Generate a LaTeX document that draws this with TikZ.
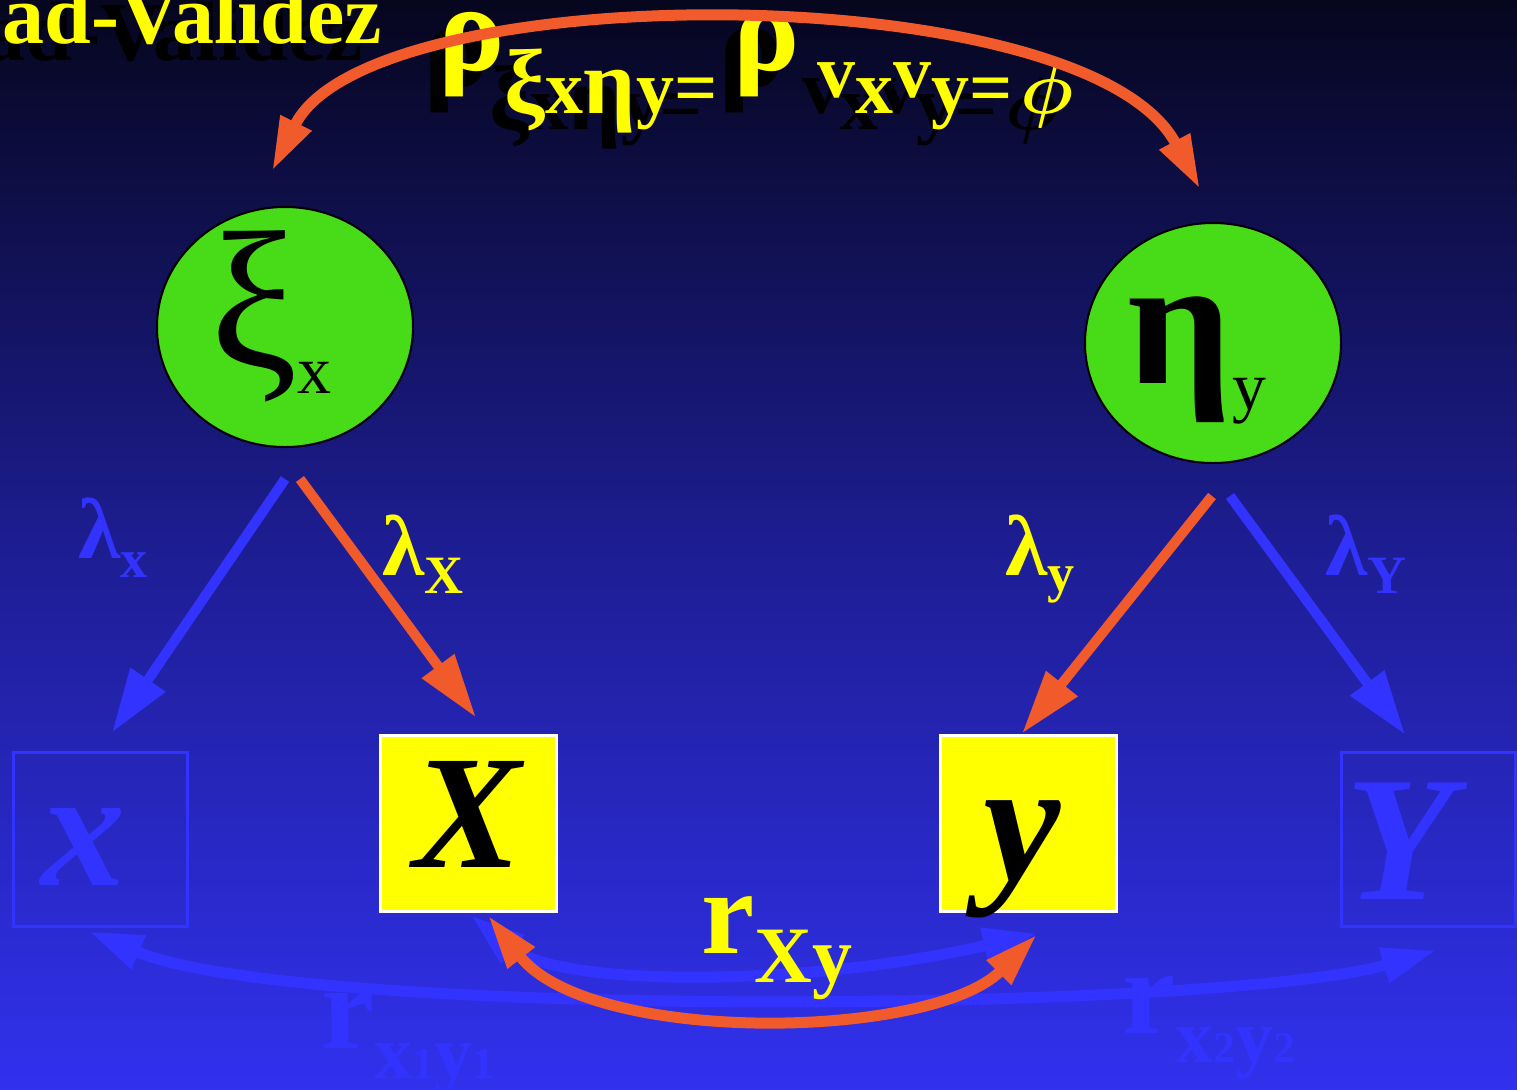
\documentclass[tikz,border=0pt]{standalone}
\usepackage{fontspec}
\setmainfont{Liberation Serif}
\usepackage{tikz}
\usetikzlibrary{arrows.meta,calc,positioning,shapes.geometric}
\definecolor{SlideTop}{HTML}{06061E}
\definecolor{SlideMid}{HTML}{1D1D92}
\definecolor{SlideBot}{HTML}{3131EE}
\definecolor{LvGreen}{HTML}{48DC18}
\definecolor{LvOrange}{HTML}{F15A2B}
\definecolor{LvBlue}{HTML}{3333FF}
\definecolor{LvYellow}{HTML}{FFFF00}
\newcommand{\fsz}[1]{\fontsize{#1}{#1}\selectfont}
\newcommand{\rholabel}{{\fsz{62}ρ}\raisebox{-21.5pt}{\fsz{38}{\fsz{46}ξ}x{\fsz{46}η}y=}\hspace{8pt}{\fsz{62}ρ}\hspace{9pt}\raisebox{-21.5pt}{\fsz{38}\raisebox{8pt}{v}x\raisebox{8pt}{v}y=\hspace{4pt}\scalebox{1.5}{\fsz{24.88}\boldmath$\phi$}}}
\tikzset{
  lvlatent/.style={ellipse, draw=black, line width=1pt, fill=LvGreen, minimum width=128pt, minimum height=120pt, inner sep=0pt, text height=40pt, text depth=0pt},
  lvobs/.style={draw=white, line width=1.5pt, fill=LvYellow, minimum size=88pt, inner sep=0pt, text height=44pt, text depth=0pt, font=\fsz{81}\bfseries\itshape},
  lvghost/.style={draw=LvBlue, line width=1.5pt, minimum size=87pt, inner sep=0pt, text=LvBlue, text height=46pt, text depth=0pt, font=\fsz{84}\bfseries\itshape},
  lvarrow/.style={-{Triangle[length=32pt,width=19pt]}, line width=5pt, draw=LvOrange},
  lvghostarrow/.style={-{Triangle[length=32pt,width=20pt]}, line width=5pt, draw=LvBlue},
  lvarc/.style={{Triangle[length=27pt,width=16pt]}-{Triangle[length=27pt,width=16pt]}, line width=5.5pt, draw=LvOrange},
  lvghostarc/.style={{Triangle[length=27pt,width=17pt]}-{Triangle[length=27pt,width=17pt]}, line width=5.5pt, draw=LvBlue},
  lvtitle/.style={anchor=base west, inner sep=0pt, text=LvYellow, font=\bfseries},
  lvshadow/.style={anchor=base west, inner sep=0pt, text=black, font=\bfseries},
  lvload/.style={anchor=base west, inner sep=0pt, text=LvYellow, font=\bfseries},
  lvghostload/.style={lvload, text=LvBlue}
}
\begin{document}
\begin{tikzpicture}[x=0.5pt,y=-0.5pt]
  \useasboundingbox (0,0) rectangle (1517,1089);
  \shade[top color=SlideTop, bottom color=SlideBot, middle color=SlideMid] (0,0) rectangle (1517,1089);

  % title and correlation of the latent variables
  \node[lvshadow] (titleS) at (-17,60) {\fsz{42}ad-Validez};
  \node[lvtitle] (title) at (2,43) {\fsz{42}ad-Validez};
  \node[lvshadow] (rhoS) at (423,86) {\rholabel};
  \node[lvtitle] (rho) at (438,70) {\rholabel};

  % latent variables
  \node[lvlatent] (xi) at (285,327) {{\fsz{98}ξ}\raisebox{-13pt}{\fsz{34}x}\kern14pt};
  \node[lvlatent] (eta) at (1213,343) {{\fsz{92}\bfseries η}\raisebox{-13pt}{\fsz{34}y}\kern16pt};

  % observed scores
  \node[lvghost] (ghostx) at (100,839) {x\kern17pt};
  \node[lvobs] (obsX) at (468,823) {X};
  \node[lvobs, text height=57pt, font=\fsz{87}\bfseries\itshape] (obsy) at (1028,823) {y\kern6pt};
  \node[lvghost, text height=60pt, font=\fsz{89}\bfseries\itshape] (ghostY) at (1428,839) {Y\kern28pt};

  % loadings
  \node[lvghostload] (lamx) at (78,558) {{\fsz{43}λ}\raisebox{-9.5pt}{\fsz{27}x}};
  \node[lvload] (lamX) at (382,575) {{\fsz{43}λ}\raisebox{-9pt}{\fsz{27}X}};
  \node[lvload] (lamy) at (1005,575) {{\fsz{43}λ}\raisebox{-8pt}{\fsz{27}y}};
  \node[lvghostload] (lamY) at (1325,575) {{\fsz{43}λ}\raisebox{-9pt}{\fsz{27}Y}};

  % faint observed correlations
  \node[lvghostload] (rxy1) at (321,1048) {{\fsz{60}r}\raisebox{-15pt}{\fsz{38}x{\fsz{22}1}y{\fsz{22}1}}};
  \node[lvghostload] (rxy2) at (1122,1033) {{\fsz{60}r}\raisebox{-14.5pt}{\fsz{38}x{\fsz{22}2}y{\fsz{22}2}}};

  % connector ends
  \coordinate (xiL) at ($(xi.south)+(0,31)$);
  \coordinate (xiR) at ($(xi.south)+(15,31)$);
  \coordinate (etaL) at ($(eta.south)+(-1,32)$);
  \coordinate (etaR) at ($(eta.south)+(17,32)$);
  \coordinate (ghostxTip) at ($(ghostx.north)+(12,-18)$);
  \coordinate (obsXTip) at ($(obsX.north)+(8,-16)$);
  \coordinate (obsyTip) at ($(obsy.north)+(-6,0)$);
  \coordinate (ghostYTip) at ($(ghostY.north)+(-23,-16)$);

  \draw[lvghostarrow] (xiL) -- (ghostxTip);
  \draw[lvarrow] (xiR) -- (obsXTip);
  \draw[lvarrow] (etaL) -- (obsyTip);
  \draw[lvghostarrow] (etaR) -- (ghostYTip);

  \coordinate (xiTop) at ($(xi.north)+(-13,-35)$);
  \coordinate (etaTop) at ($(eta.north)+(-13,-33)$);
  \coordinate (ghostxBot) at ($(ghostx.south)+(-11,4)$);
  \coordinate (ghostYBot) at ($(ghostY.south)+(8,23)$);
  \coordinate (obsXBotB) at ($(obsX.south)+(3,3)$);
  \coordinate (obsyBotB) at ($(obsy.south)+(9,21)$);
  \coordinate (obsXBot) at ($(obsX.south)+(20,3)$);
  \coordinate (obsyBot) at ($(obsy.south)+(9,22)$);

  \draw[lvarc] (xiTop) .. controls +(98,-196) and +(-114,-214) .. (etaTop);
  \draw[lvghostarc] (ghostxBot) .. controls +(211,89) and +(-216,62) .. (ghostYBot);
  \draw[lvghostarc] (obsXBotB) .. controls +(89,72) and +(-233,54) .. (obsyBotB);
  \draw[lvarc] (obsXBot) .. controls +(102,130) and +(-106,106) .. (obsyBot);

  \node[lvload] (rXy) at (701,953) {{\fsz{60}r}\raisebox{-14.5pt}{\fsz{40}Xy}};
\end{tikzpicture}
\end{document}
